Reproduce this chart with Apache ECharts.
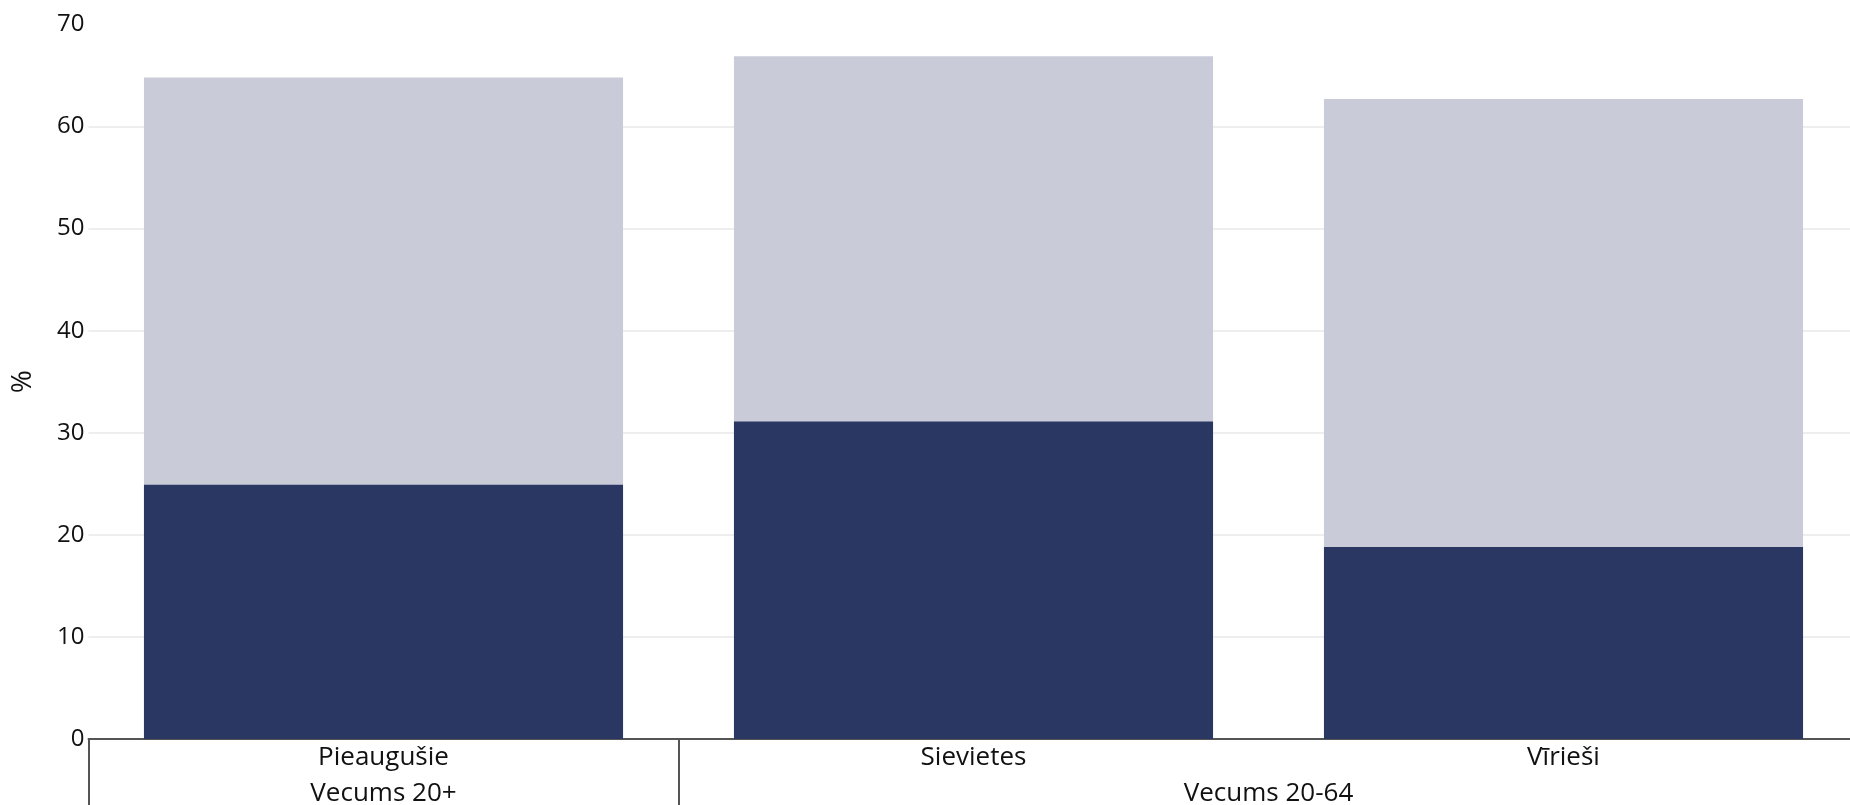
<!DOCTYPE html>
<html>
<head>
<meta charset="utf-8">
<script src="https://cdn.jsdelivr.net/npm/echarts@6/dist/echarts.min.js"></script>
<style>
html,body{margin:0;padding:0;background:#fff;}
#chart{width:1850px;height:805px;}
</style>
</head>
<body>
<div id="chart"></div>
<script>
var categories = ['Pieaugušie', 'Sievietes', 'Vīrieši'];
var groupNames = ['Vecums 20+', 'Vecums 20-64'];
var groupCenters = [0.5, 2];
var groupBounds = [0, 1, 3];
var totalValues = [64.8, 66.9, 62.7];
var subsetValues = [24.9, 31.1, 18.8];
var yTicks = [0, 10, 20, 30, 40, 50, 60, 70];

var FONT = '"Open Sans", Lato, sans-serif';
var chart = echarts.init(document.getElementById('chart'));
chart.setOption({
  animation: false,
  textStyle: { fontFamily: FONT },
  grid: { left: 88.5, right: -8.5, top: 24.5, bottom: 66, containLabel: false, outerBoundsMode: 'none' },
  xAxis: [
    {
      type: 'category',
      data: categories,
      position: 'bottom',
      axisLine: { show: true, lineStyle: { color: '#555', width: 2 } },
      axisTick: { show: false },
      axisLabel: { color: '#111', fontSize: 26, margin: 6, fontFamily: FONT }
    },
    {
      type: 'value',
      min: 0,
      max: 3,
      position: 'bottom',
      splitLine: { show: false },
      axisLine: { show: false },
      axisTick: { show: true, customValues: groupBounds, length: 80, lineStyle: { color: '#555', width: 2 } },
      axisLabel: {
        customValues: groupCenters,
        color: '#111', fontSize: 26, margin: 42, fontFamily: FONT,
        formatter: function (v) {
          var i = groupCenters.indexOf(v);
          return i >= 0 ? groupNames[i] : '';
        }
      }
    }
  ],
  yAxis: {
    type: 'value',
    min: yTicks[0],
    max: yTicks[yTicks.length - 1],
    interval: 10,
    name: '%',
    nameLocation: 'middle',
    nameGap: 51,
    nameTextStyle: { color: '#111', fontSize: 28, fontFamily: FONT },
    axisLine: { show: false },
    axisTick: { show: false },
    axisLabel: { color: '#111', fontSize: 24, margin: 4, fontFamily: FONT },
    splitLine: { show: true, showMaxLine: false, lineStyle: { color: '#eeeeee', width: 2 } }
  },
  series: [
    {
      type: 'bar',
      xAxisIndex: 0,
      data: totalValues,
      barWidth: '81.2%',
      barGap: '-100%',
      itemStyle: { color: '#c9ccd8' },
      z: 2
    },
    {
      type: 'bar',
      xAxisIndex: 0,
      data: subsetValues,
      barWidth: '81.2%',
      barGap: '-100%',
      itemStyle: { color: '#2b3763' },
      z: 3
    }
  ]
});
</script>
</body>
</html>
